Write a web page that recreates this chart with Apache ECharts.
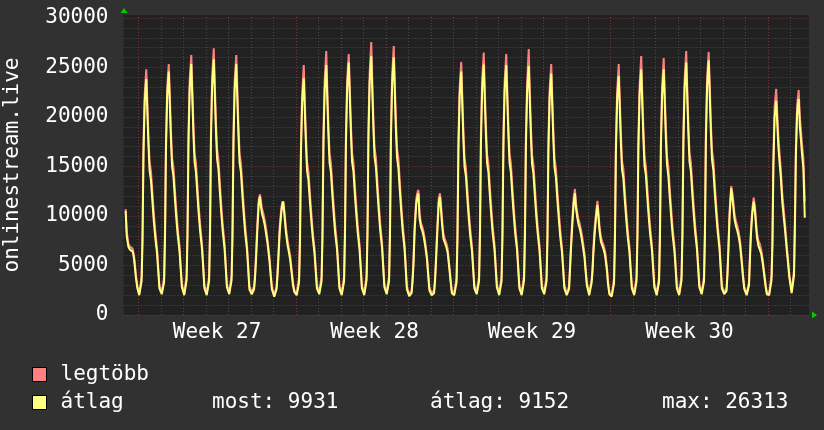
<!DOCTYPE html>
<html><head><meta charset="utf-8">
<script src="https://cdn.jsdelivr.net/npm/echarts@6/dist/echarts.min.js"></script>
<style>html,body{margin:0;padding:0;background:#313131}#c{width:824px;height:430px}</style>
</head><body><div id="c"></div>
<script>
// sample hours within each day (hours after midnight)
const HOURS = [1, 3.5, 4.5, 5.5, 6.8, 8.5, 9.8, 10.8, 12, 13.5, 15, 16.5, 18, 20, 21, 22.5];
// partial Sunday before Week 27
const startHours = [10.5, 11.6, 13.4, 15.1, 18, 19.4, 20.5, 21.5, 23];
const startAvg = [10500, 8000, 6900, 6600, 6400, 5700, 4700, 3700, 2700];
const startMax = [10700, 8500, 7200, 6900, 6700, 6000, 5000, 4000, 2900];

const avgWeek27 = [
  [2000,3400,7500,16200,21500,23840,20000,17200,14600,13600,11500,9500,7900,6200,4800,2700],
  [2100,3300,7800,16700,22100,24580,20600,17700,15000,14000,11800,9800,8100,6400,4900,2800],
  [2000,3500,8000,17200,22800,25350,21300,18200,15500,14400,12200,10100,8400,6600,5100,2700],
  [2000,3400,7900,17600,23200,25830,21700,18600,15800,14700,12400,10300,8500,6700,5200,2800],
  [2100,3500,8000,17200,22800,25350,21300,18200,15400,14400,12100,10100,8300,6500,5000,2600],
  [2100,2600,3700,5400,8200,11300,11970,11000,10200,9700,9000,8100,7100,5400,4200,2600],
  [1850,2600,4000,5800,8300,10300,11200,11450,9900,8300,7200,6400,5600,3900,3000,2300]
];
const maxWeek27 = [
  [2200,3900,8600,17300,22300,24820,21000,18100,15500,14500,12400,10300,8600,6700,5200,3000],
  [2300,3800,8900,17800,23000,25350,21600,18700,15900,14900,12700,10600,8800,6900,5300,3100],
  [2200,4000,9100,18400,23700,26260,22300,19200,16400,15400,13100,10900,9100,7100,5500,3000],
  [2200,3900,9000,18800,24100,26940,22700,19600,16800,15700,13300,11100,9200,7200,5600,3100],
  [2300,4000,9100,18400,23700,26260,22300,19200,16300,15300,13000,10900,9000,7000,5400,2900],
  [2300,2900,4100,6000,8900,11700,12190,11500,10700,10200,9500,8600,7500,5800,4500,2900],
  [2000,2900,4400,6300,8900,10800,11500,11600,10400,8800,7700,6800,6000,4200,3300,2500]
];
const avgWeek28 = [
  [2000,3300,7400,16200,21500,23900,20100,17200,14600,13600,11500,9600,7900,6200,4800,2700],
  [2100,3400,7900,17200,22700,25250,21200,18200,15400,14400,12100,10100,8300,6600,5100,2700],
  [2000,3400,8000,17300,22900,25490,21400,18400,15500,14500,12200,10200,8400,6600,5100,2700],
  [2000,3500,8100,17800,23500,26160,22000,18800,16000,14900,12600,10500,8600,6800,5200,2800],
  [2100,3400,8000,17700,23400,26030,21900,18700,15900,14800,12500,10400,8500,6700,5100,2600],
  [1900,2200,3300,5000,8500,11200,12000,12290,9800,8900,8500,7900,7000,5600,4300,2500],
  [2000,2200,3300,5200,8000,11300,11960,10800,9200,7700,7300,6900,6300,4500,3500,2200]
];
const maxWeek28 = [
  [2200,3800,8500,17400,22400,25250,21100,18200,15500,14500,12400,10400,8500,6700,5200,3000],
  [2300,3900,9000,18400,23700,26670,22300,19200,16300,15300,13000,10900,9000,7100,5500,3000],
  [2200,3900,9100,18500,23800,26360,22400,19300,16400,15400,13100,11000,9100,7100,5500,3000],
  [2200,4000,9200,19000,24500,27580,23000,19800,16900,15900,13500,11300,9300,7300,5600,3100],
  [2300,3900,9100,18900,24300,27170,22900,19700,16800,15800,13400,11200,9200,7200,5500,2900],
  [2100,2400,3600,5400,9100,11700,12400,12630,10300,9300,8900,8300,7400,5900,4600,2800],
  [2200,2500,3700,5700,8600,11800,12290,11300,9700,8200,7700,7300,6700,4800,3800,2400]
];
const avgWeek29 = [
  [2000,3300,7700,16700,22100,24580,20600,17700,15000,14000,11800,9800,8100,6400,4900,2700],
  [2100,3400,7900,17200,22800,25290,21200,18200,15400,14400,12100,10100,8300,6600,5100,2800],
  [2000,3400,7900,17100,22700,25250,21200,18200,15400,14400,12100,10100,8300,6600,5100,2700],
  [2000,3500,8000,17100,22600,25150,21100,18100,15300,14300,12100,10000,8300,6500,5000,2700],
  [2100,3400,7700,16600,21900,24380,20500,17600,14900,13900,11700,9800,8000,6300,4900,2700],
  [2000,2600,4500,6500,8800,11300,12290,10900,10000,9200,8700,8000,7100,5800,4600,3000],
  [2000,3200,4300,6300,8200,10000,11110,10000,8500,7400,7000,6600,6000,4400,3200,2100]
];
const maxWeek29 = [
  [2200,3800,8800,17800,23000,25560,21600,18700,15900,14900,12700,10600,8800,6900,5300,3000],
  [2300,3900,9000,18400,23700,26500,22200,19200,16300,15300,13000,10900,9000,7100,5500,3100],
  [2200,3900,9000,18300,23600,26360,22200,19200,16300,15300,13000,10900,9000,7100,5500,3000],
  [2200,4000,9100,18300,23500,26870,22100,19100,16200,15200,13000,10800,9000,7000,5400,3000],
  [2300,3900,8800,17700,22800,25350,21500,18500,15800,14800,12600,10600,8700,6800,5300,3000],
  [2200,2900,4900,7000,9400,11900,12730,11400,10500,9700,9200,8500,7600,6200,5000,3300],
  [2200,3500,4700,6800,8800,10500,11520,10500,9000,7900,7400,7000,6400,4800,3500,2300]
];
const avgWeek30 = [
  [1850,3200,7500,16400,21700,24140,20300,17400,14700,13800,11600,9700,8000,6300,4800,2700],
  [2000,3400,7800,16900,22300,24820,20800,17900,15100,14100,11900,9900,8200,6500,5000,2800],
  [2000,3300,7700,16800,22200,24820,20900,17800,15200,14000,11800,9900,8100,6400,5000,2700],
  [2000,3500,8000,17300,22900,25490,21400,18400,15500,14500,12200,10200,8400,6600,5100,2800],
  [2100,3400,8000,17500,23100,25690,21600,18500,15700,14600,12300,10300,8500,6700,5100,2700],
  [2100,2400,4000,6500,10000,12800,11800,10900,9700,9000,8500,7900,7000,5000,3900,2600],
  [2000,3000,5700,8000,10000,11450,10500,9200,7800,7000,6800,6200,5300,3800,3000,2100]
];
const maxWeek30 = [
  [2000,3700,8600,17500,22600,25350,21300,18400,15600,14700,12500,10500,8700,6800,5200,3000],
  [2200,3900,8900,18000,23200,26160,21800,18900,16000,15000,12800,10700,8900,7000,5400,3100],
  [2200,3800,8800,17900,23100,25960,21900,18800,16100,14900,12700,10700,8800,6900,5400,3000],
  [2200,4000,9100,18500,23800,26670,22400,19300,16400,15400,13100,11000,9100,7100,5500,3100],
  [2300,3900,9100,18700,24000,26570,22600,19500,16600,15600,13200,11100,9200,7200,5500,3000],
  [2300,2700,4400,7000,10600,13030,12300,11400,10200,9500,9000,8400,7500,5400,4200,2800],
  [2200,3300,6100,8500,10500,11850,11000,9700,8300,7500,7200,6600,5700,4100,3300,2300]
];
const avgWeek31 = [
  [2000,3500,7000,15000,20000,21620,19000,17000,15500,13800,11400,9900,8500,6300,5400,3800],
  [2200,4000,9000,16000,20300,21820,18900,17800,16300,14800,9830]
];
const maxWeek31 = [
  [2200,4000,8000,16000,21000,22830,20000,18000,16400,14600,12200,10700,9100,6800,5800,4100],
  [2400,4500,10000,17000,21200,22730,19900,18800,17300,15800,11450]
];

const weekLabels = ['Week 27', 'Week 28', 'Week 29', 'Week 30'];
const weekCenters = [84, 252, 420, 588];
const weekStarts = [0, 168, 336, 504, 672];
const dayCount = 30;
const seriesNames = ['legtöbb', 'átlag'];
const statTexts = ['most: 9931', 'átlag: 9152', 'max: 26313'];

function build(startVals, weeks) {
  const pts = startHours.map((h, i) => [h - 24, startVals[i]]);
  let day = 0;
  weeks.forEach(w => w.forEach(vals => {
    vals.forEach((v, i) => pts.push([day * 24 + HOURS[i], v]));
    day++;
  }));
  return pts;
}
const avgData = build(startAvg, [avgWeek27, avgWeek28, avgWeek29, avgWeek30, avgWeek31]);
const maxData = build(startMax, [maxWeek27, maxWeek28, maxWeek29, maxWeek30, maxWeek31]);

const mono = '"DejaVu Sans Mono", monospace';
const RED = '#ff8080', YEL = '#ffff80';
const GRID_MAJOR = '#7a3636', GRID_MINOR = '#4a4a4a';

const vLines = [];
for (let d = 0; d < dayCount; d++) {
  const h = d * 24;
  const major = weekStarts.indexOf(h) >= 0;
  vLines.push({ xAxis: h, lineStyle: { color: major ? GRID_MAJOR : GRID_MINOR, type: [1, 2], width: 1 } });
}

const chart = echarts.init(document.getElementById('c'), null, { renderer: 'canvas' });
chart.setOption({
  backgroundColor: '#313131',
  animation: false,
  grid: { left: 123.5, right: 15, top: 15, bottom: 115, show: true, backgroundColor: '#212121', borderWidth: 0,
    containLabel: false, outerBoundsMode: 'none' },
  xAxis: {
    type: 'value', min: -15.8, max: 715.5,
    axisLine: { show: false }, axisTick: { show: false }, splitLine: { show: false },
    axisLabel: {
      customValues: weekCenters,
      formatter: v => { const i = weekCenters.indexOf(v); return i >= 0 ? weekLabels[i] : ''; },
      color: '#ffffff', fontFamily: mono, fontSize: 21, margin: 7
    }
  },
  yAxis: {
    type: 'value', min: 0, max: 30300, interval: 1000,
    axisLine: { show: false }, axisTick: { show: false },
    axisLabel: { formatter: v => (v % 5000 === 0 ? String(v) : ''), color: '#ffffff', fontFamily: mono, fontSize: 21, margin: 15 },
    splitLine: { show: true, showMaxLine: false, lineStyle: { color: [GRID_MAJOR, GRID_MINOR, GRID_MINOR, GRID_MINOR, GRID_MINOR], type: [1, 2], width: 1 } },
    name: 'onlinestream.live', nameLocation: 'middle', nameRotate: 90, nameGap: 100,
    nameTextStyle: { color: '#ffffff', fontFamily: mono, fontSize: 21 }
  },
  legend: {
    data: seriesNames, orient: 'vertical', left: 27, top: 359, padding: 5,
    itemWidth: 14, itemHeight: 14, itemGap: 7, icon: 'rect', selectedMode: false,
    itemStyle: { borderColor: '#000000', borderWidth: 1 },
    textStyle: { color: '#ffffff', fontFamily: mono, fontSize: 21, padding: [0, 0, 0, 9] }
  },
  series: [
    {
      name: seriesNames[0], type: 'line', data: maxData, symbol: 'none', z: 2, silent: true,
      lineStyle: { color: RED, width: 2 }, itemStyle: { color: RED },
      emphasis: { disabled: true },
      markLine: { silent: true, z: 1, symbol: ['none', 'none'], label: { show: false }, animation: false,
        emphasis: { disabled: true }, data: vLines }
    },
    {
      name: seriesNames[1], type: 'line', data: avgData, symbol: 'none', z: 3, silent: true,
      lineStyle: { color: YEL, width: 2 }, itemStyle: { color: YEL },
      emphasis: { disabled: true }
    }
  ],
  graphic: [
    { type: 'text', x: 212, y: 403, style: { text: statTexts[0], fill: '#ffffff', font: '21px ' + mono, verticalAlign: 'middle' } },
    { type: 'text', x: 430, y: 403, style: { text: statTexts[1], fill: '#ffffff', font: '21px ' + mono, verticalAlign: 'middle' } },
    { type: 'text', x: 662, y: 403, style: { text: statTexts[2], fill: '#ffffff', font: '21px ' + mono, verticalAlign: 'middle' } },
    { type: 'polygon', shape: { points: [[124, 8], [120.5, 13], [127.5, 13]] }, style: { fill: '#00cc00' } },
    { type: 'polygon', shape: { points: [[817, 315], [812, 311.5], [812, 318.5]] }, style: { fill: '#00cc00' } }
  ]
});
</script>
</body></html>
